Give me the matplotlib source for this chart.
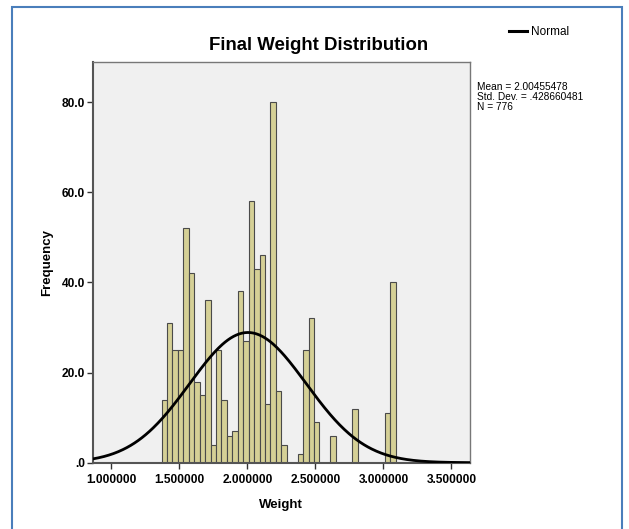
import numpy as np
import matplotlib
matplotlib.use("Agg")
import matplotlib.pyplot as plt
from matplotlib.patches import Rectangle
from matplotlib.lines import Line2D

plt.rcParams['font.family'] = ['Liberation Sans', 'DejaVu Sans']

# ---- data ----
bin_start = 1.37
bin_width = 0.04
counts = [14, 31, 25, 25, 52, 42, 18, 15, 36, 4, 25, 14, 6, 7, 38, 27, 58, 43, 46, 13, 80, 16, 4,
          0, 0, 2, 25, 32, 9, 0, 0, 6, 0, 0, 0, 12, 0, 0, 0, 0, 0, 11, 40]
mean = 2.00455478
std = 0.428660481
n_total = 776
x_ticks = [1.0, 1.5, 2.0, 2.5, 3.0, 3.5]
x_tick_labels = ["1.000000", "1.500000", "2.000000", "2.500000", "3.000000", "3.500000"]
y_ticks = [0, 20, 40, 60, 80]
y_tick_labels = [".0", "20.0", "40.0", "60.0", "80.0"]

edges = bin_start + bin_width * np.arange(len(counts) + 1)

fig = plt.figure(figsize=(6.29, 5.29), dpi=100)
fig.patch.set_facecolor('white')
ax = fig.add_axes([92.7/629, 1 - 462.7/529, (470 - 92.7)/629, (462.7 - 62)/529])
ax.set_facecolor('#F0F0F0')

ax.hist(edges[:-1], bins=edges, weights=counts, color='#D5D096', edgecolor='#4A4A4A',
        linewidth=0.8, zorder=2)

xlim = (0.864, 3.636)
xs = np.linspace(xlim[0], xlim[1], 400)
ys = n_total * bin_width * np.exp(-0.5 * ((xs - mean) / std) ** 2) / (std * np.sqrt(2 * np.pi))
ax.plot(xs, ys, color='black', linewidth=2, zorder=3, label='Normal')

ax.set_xlim(*xlim)
ax.set_ylim(0, 88.9)
ax.set_xticks(x_ticks)
ax.set_xticklabels(x_tick_labels, fontweight='bold', fontsize=8.6)
ax.set_yticks(y_ticks)
ax.set_yticklabels(y_tick_labels, fontweight='bold', fontsize=8.6)
ax.tick_params(direction='out', length=4, width=1, color='#333333')
ax.tick_params(axis='x', pad=4)
ax.tick_params(axis='y', pad=1.5)

for s in ['left', 'bottom']:
    ax.spines[s].set_color('#555555')
    ax.spines[s].set_linewidth(1.5)
for s in ['top', 'right']:
    ax.spines[s].set_color('#777777')
    ax.spines[s].set_linewidth(1)

ax.set_xlabel('Weight', fontweight='bold', fontsize=9.5, labelpad=9.5)
ax.set_ylabel('Frequency', fontweight='bold', fontsize=9.5, labelpad=6)
fig.text(319/629, 1 - 45/529, 'Final Weight Distribution', fontweight='bold',
         fontsize=13.4, ha='center', va='center')

fig.legend(handles=[Line2D([0], [0], color='black', linewidth=2.2)], labels=['Normal'],
           loc='center left', bbox_to_anchor=(503/629, 1 - 32/529), frameon=False,
           handlelength=1.5, handletextpad=0.35, fontsize=8.5, borderpad=0)

fig.text(477/629, 1 - 82/529,
         "Mean = 2.00455478\nStd. Dev. = .428660481\nN = 776",
         fontsize=7.3, va='top', ha='left', linespacing=1.0)

fig.add_artist(Rectangle((11.5/629, -0.1), (622 - 11.5)/629, 1.1 - 7.5/529,
                         transform=fig.transFigure, fill=False, edgecolor='#4A7EBB',
                         linewidth=1.5))

fig.savefig('out.png', dpi=100)
